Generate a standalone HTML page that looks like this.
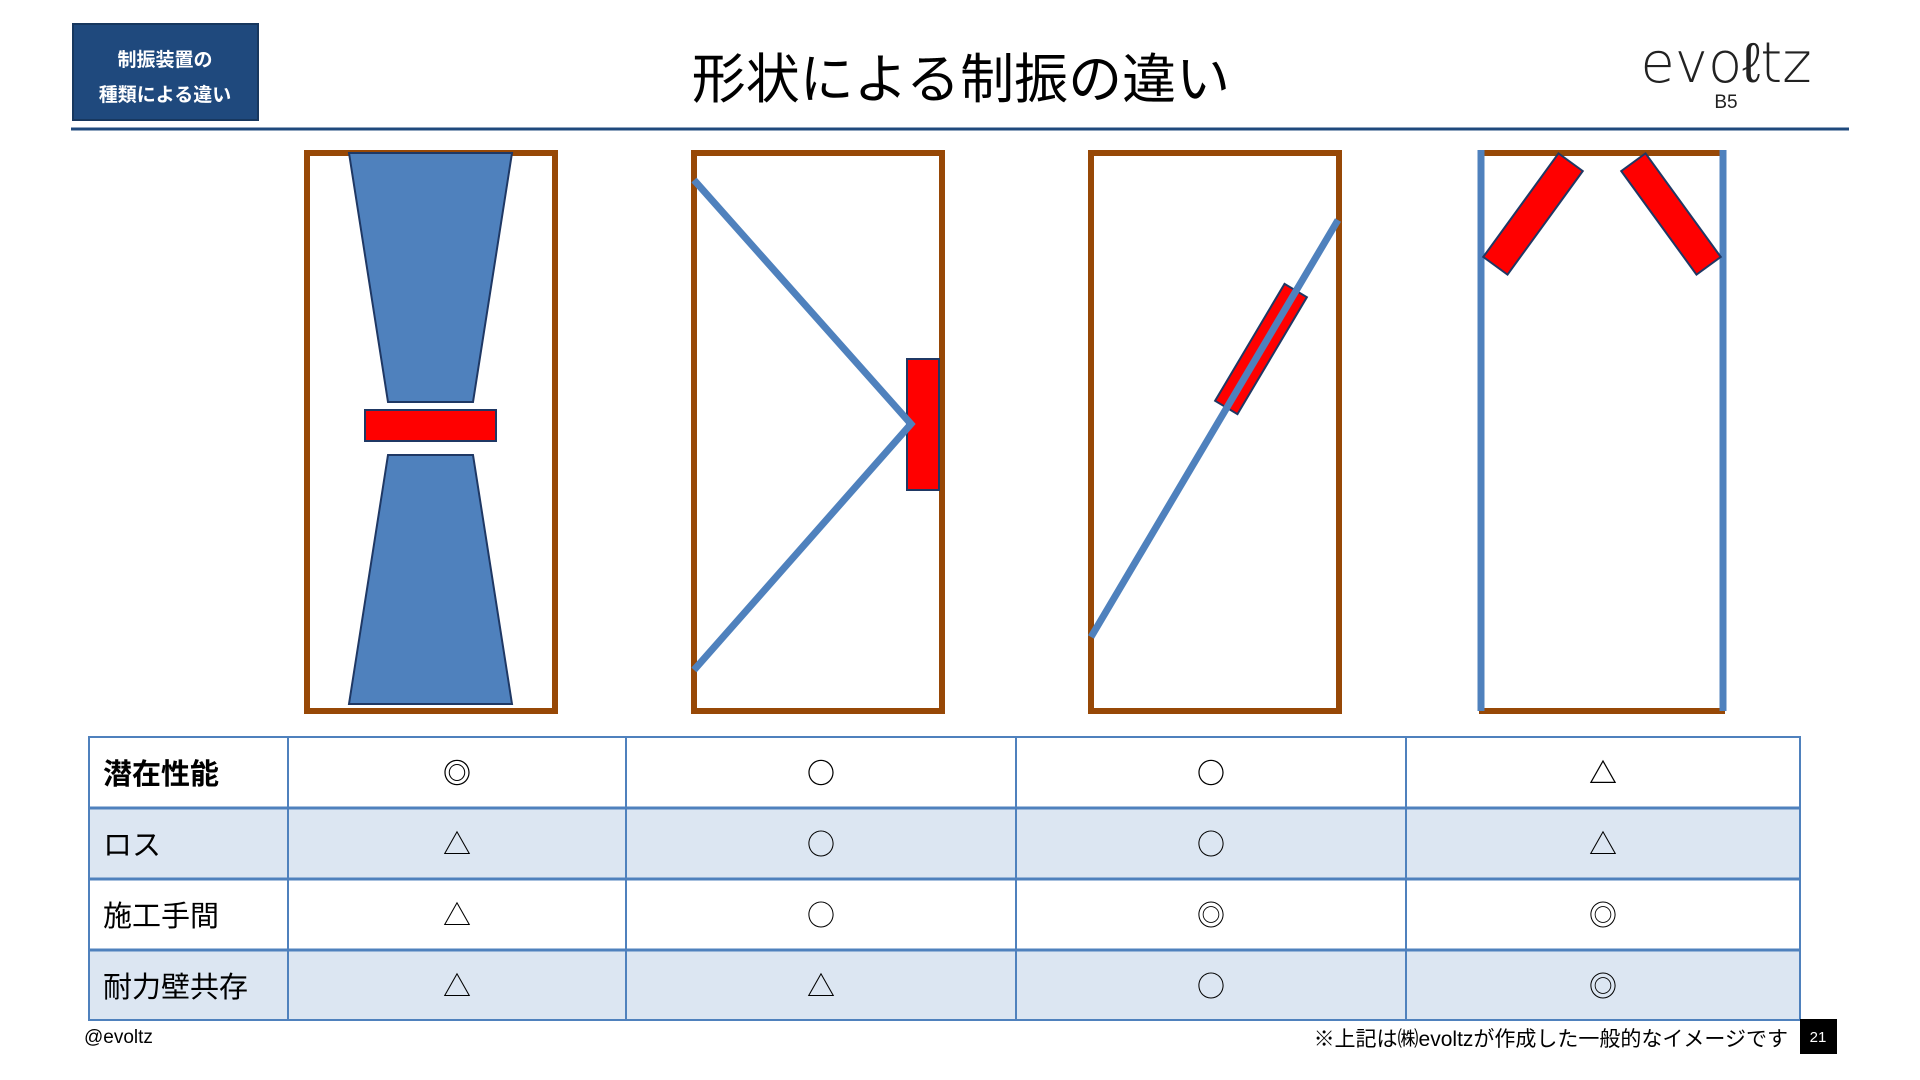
<!DOCTYPE html>
<html><head><meta charset="utf-8"><style>
body{margin:0;width:1920px;height:1080px;background:#fff;overflow:hidden;font-family:"Liberation Sans","Noto Sans CJK JP",sans-serif}
</style></head><body>
<svg width="1920" height="1080" xmlns="http://www.w3.org/2000/svg" style="position:absolute;left:0;top:0">
<style>text{font-family:"Liberation Sans","Noto Sans CJK JP",sans-serif}.sym{font-family:"Noto Sans CJK JP",sans-serif}</style>
<rect x="73" y="24" width="185" height="96" fill="#1f497d" stroke="#17375e" stroke-width="2"/>
<text x="165" y="66" fill="#fff" font-size="19" font-weight="bold" text-anchor="middle">制振装置の</text>
<text x="165" y="101" fill="#fff" font-size="19" font-weight="bold" text-anchor="middle">種類による違い</text>
<text x="961" y="98" font-size="54" text-anchor="middle" fill="#000">形状による制振の違い</text>
<text x="1726" y="82" font-size="56" text-anchor="middle" fill="#222" style="font-family:'DejaVu Sans',sans-serif;font-weight:200" font-weight="200">evoℓtz</text>
<text x="1726" y="108" font-size="19" text-anchor="middle" fill="#222">B5</text>
<line x1="71" y1="129" x2="1849" y2="129" stroke="#1f497d" stroke-width="3"/>

<g fill="none" stroke="#974806" stroke-width="6">
<rect x="307" y="153" width="248" height="558"/>
<rect x="694" y="153" width="248" height="558"/>
<rect x="1091" y="153" width="248" height="558"/>
<line x1="1479" y1="153" x2="1725" y2="153"/>
<line x1="1479" y1="711" x2="1725" y2="711"/>
</g>
<g stroke="#4f81bd" stroke-width="7">
<line x1="1481" y1="150" x2="1481" y2="711"/>
<line x1="1723" y1="150" x2="1723" y2="711"/>
</g>
<polygon points="349,153 512,153 473,402 388,402" fill="#4f81bd" stroke="#1f3864" stroke-width="2"/>
<polygon points="388,455 473,455 512,704 349,704" fill="#4f81bd" stroke="#1f3864" stroke-width="2"/>
<rect x="365" y="410" width="131" height="31" fill="#ff0000" stroke="#1f3864" stroke-width="2"/>
<rect x="907" y="359" width="32" height="131" fill="#ff0000" stroke="#1f3864" stroke-width="2"/>
<polyline points="694,180 911,424 694,670" fill="none" stroke="#4f81bd" stroke-width="7"/>
<g transform="translate(1261,349) rotate(-59.3)"><rect x="-68" y="-13" width="136" height="26" fill="#ff0000" stroke="#1f3864" stroke-width="2"/></g>
<line x1="1091" y1="637" x2="1338" y2="220" stroke="#4f81bd" stroke-width="7"/>
<g transform="translate(1533,214) rotate(-54)"><rect x="-64" y="-15" width="128" height="30" fill="#ff0000" stroke="#1f3864" stroke-width="2"/></g>
<g transform="translate(1671,214) rotate(54)"><rect x="-64" y="-15" width="128" height="30" fill="#ff0000" stroke="#1f3864" stroke-width="2"/></g>

<rect x="89" y="808" width="1711" height="71" fill="#dce6f2"/>
<rect x="89" y="950" width="1711" height="70" fill="#dce6f2"/>
<g stroke="#4f81bd" stroke-width="2" fill="none">
<rect x="89" y="737" width="1711" height="283"/>
<line x1="288" y1="737" x2="288" y2="1020"/>
<line x1="626" y1="737" x2="626" y2="1020"/>
<line x1="1016" y1="737" x2="1016" y2="1020"/>
<line x1="1406" y1="737" x2="1406" y2="1020"/>
</g>
<g stroke="#4f81bd" stroke-width="3">
<line x1="89" y1="808" x2="1800" y2="808"/>
<line x1="89" y1="879" x2="1800" y2="879"/>
<line x1="89" y1="950" x2="1800" y2="950"/>
</g>
<g font-size="29" fill="#000">
<text x="103" y="784" font-weight="bold">潜在性能</text>
<text x="103" y="855">ロス</text>
<text x="103" y="926">施工手間</text>
<text x="103" y="997">耐力壁共存</text>
</g>
<g font-size="28" text-anchor="middle" fill="#000" class="sym">
<g font-weight="bold">
<text class="sym" x="457" y="783">◎</text><text class="sym" x="821" y="783">○</text><text class="sym" x="1211" y="783">○</text><text class="sym" x="1603" y="783">△</text></g>
<text class="sym" x="457" y="854">△</text><text class="sym" x="821" y="854">○</text><text class="sym" x="1211" y="854">○</text><text class="sym" x="1603" y="854">△</text>
<text class="sym" x="457" y="925">△</text><text class="sym" x="821" y="925">○</text><text class="sym" x="1211" y="925">◎</text><text class="sym" x="1603" y="925">◎</text>
<text class="sym" x="457" y="996">△</text><text class="sym" x="821" y="996">△</text><text class="sym" x="1211" y="996">○</text><text class="sym" x="1603" y="996">◎</text>
</g>
<text x="84" y="1043" font-size="19" fill="#000">@evoltz</text>
<text x="1788" y="1046" font-size="21" text-anchor="end" fill="#000">※上記は㈱evoltzが作成した一般的なイメージです</text>
<rect x="1800" y="1019" width="37" height="35" fill="#000"/>
<text x="1818" y="1042" font-size="15" fill="#fff" text-anchor="middle">21</text>
</svg>
</body></html>
